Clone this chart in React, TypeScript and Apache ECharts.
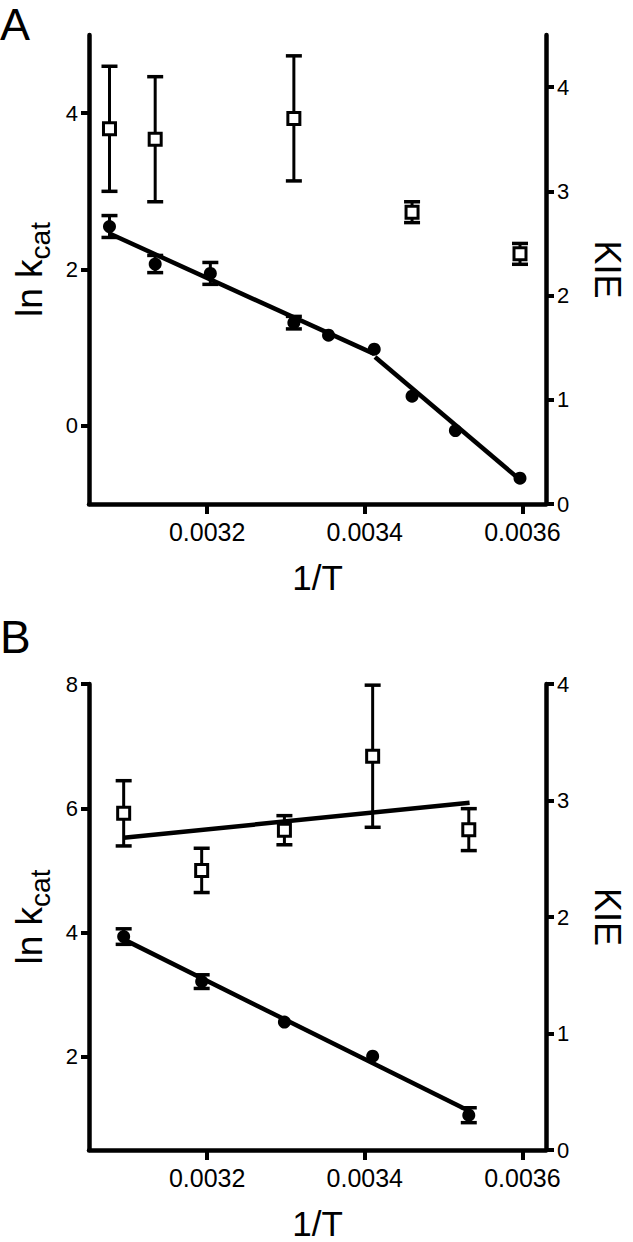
import React, { useEffect, useRef } from "react";
import * as echarts from "echarts";

// ---------- Data ----------
// Panel A
const xA_kie = [0.003076, 0.003134, 0.00331, 0.00346, 0.003597];
const kieA = [3.6, 3.5, 3.7, 2.8, 2.4];
const kieA_err = [0.6, 0.6, 0.6, 0.1, 0.1];

const xA_ln = [0.003076, 0.003134, 0.003204, 0.00331, 0.003354, 0.003412, 0.00346, 0.003515, 0.003597];
const lnA = [2.55, 2.07, 1.95, 1.32, 1.16, 0.98, 0.38, -0.06, -0.67];
const lnA_err = [0.14, 0.11, 0.14, 0.08, 0, 0, 0, 0, 0];

const fitA1_x = [0.003076, 0.003412];
const fitA1_y = [2.46, 0.92];
const fitA2_x = [0.003413, 0.003597];
const fitA2_y = [0.88, -0.69];

// Panel B
const xB = [0.003094, 0.003193, 0.003298, 0.00341, 0.003532];
const kieB = [2.89, 2.4, 2.745, 3.38, 2.75];
const kieB_err = [0.28, 0.19, 0.125, 0.61, 0.18];
const lnB = [3.935, 3.21, 2.56, 2.01, 1.06];
const lnB_err = [0.125, 0.11, 0, 0, 0.12];

const fitB_ln_x = [0.003094, 0.003535];
const fitB_ln_y = [3.89, 1.11];
const fitB_kie_x = [0.003094, 0.003533];
const fitB_kie_y = [2.68, 2.98];

// Axis ranges and ticks
const xMin = 0.00305;
const xMax = 0.00363;
const xTicks = [0.0032, 0.0034, 0.0036];
const lnA_range = [-1, 5];
const lnA_ticks = [0, 2, 4];
const kieA_range = [0, 4.5];
const kieA_ticks = [0, 1, 2, 3, 4];
const lnB_range = [0.5, 8];
const lnB_ticks = [2, 4, 6, 8];
const kieB_range = [0, 4];
const kieB_ticks = [0, 1, 2, 3, 4];

const FONT = "'Liberation Sans', Arial, Helvetica, sans-serif";
const BLACK = "#000";

const zip2 = (xs: number[], ys: number[]) => xs.map((x, i) => [x, ys[i]]);
const zip3 = (xs: number[], ys: number[], es: number[]) => xs.map((x, i) => [x, ys[i], es[i]]);

function errorBarSeries(data: number[][], gridIdx: number, yIdx: number) {
  return {
    type: "custom",
    xAxisIndex: gridIdx,
    yAxisIndex: yIdx,
    z: 2,
    silent: true,
    encode: { x: 0, y: 1 },
    data,
    renderItem: (params: any, api: any) => {
      const x = api.value(0);
      const y = api.value(1);
      const e = api.value(2);
      if (!e) return null;
      const top = api.coord([x, y + e]);
      const bot = api.coord([x, y - e]);
      const hw = 8;
      return {
        type: "group",
        children: [
          { type: "line", shape: { x1: top[0], y1: top[1], x2: bot[0], y2: bot[1] }, style: { stroke: BLACK, lineWidth: 3 } },
          { type: "line", shape: { x1: top[0] - hw, y1: top[1], x2: top[0] + hw, y2: top[1] }, style: { stroke: BLACK, lineWidth: 3.5 } },
          { type: "line", shape: { x1: bot[0] - hw, y1: bot[1], x2: bot[0] + hw, y2: bot[1] }, style: { stroke: BLACK, lineWidth: 3.5 } },
        ],
      };
    },
  };
}

function xAxisDef(gridIndex: number, nameGap: number) {
  return {
    type: "value",
    gridIndex,
    min: xMin,
    max: xMax,
    name: "1/T",
    nameLocation: "middle",
    nameGap,
    nameTextStyle: { fontSize: 35, fontFamily: FONT, color: BLACK },
    axisLine: { show: true, onZero: false, lineStyle: { color: BLACK, width: 4.5 } },
    axisTick: { show: true, length: 10, customValues: xTicks, lineStyle: { color: BLACK, width: 4 } },
    axisLabel: {
      show: true,
      customValues: xTicks,
      formatter: (v: number) => v.toFixed(4),
      fontSize: 25,
      fontFamily: FONT,
      color: BLACK,
      margin: 15,
    },
    splitLine: { show: false },
  };
}

function leftYAxisDef(gridIndex: number, range: number[], ticks: number[]) {
  return {
    type: "value",
    gridIndex,
    position: "left",
    min: range[0],
    max: range[1],
    name: "{a|ln k}{b|cat}",
    nameLocation: "middle",
    nameGap: 38,
    nameTextStyle: {
      color: BLACK,
      rich: {
        a: { fontSize: 37, fontFamily: FONT, color: BLACK, lineHeight: 40, verticalAlign: "top" },
        b: { fontSize: 28, fontFamily: FONT, color: BLACK, lineHeight: 40, verticalAlign: "top", padding: [15, 0, 0, 0] },
      },
    },
    axisLine: { show: true, onZero: false, lineStyle: { color: BLACK, width: 4.5 } },
    axisTick: { show: true, length: 8, customValues: ticks, lineStyle: { color: BLACK, width: 4 } },
    axisLabel: { show: true, customValues: ticks, fontSize: 22, fontFamily: FONT, color: BLACK, margin: 11 },
    splitLine: { show: false },
  };
}

function rightYAxisDef(gridIndex: number, range: number[], ticks: number[]) {
  return {
    type: "value",
    gridIndex,
    position: "right",
    min: range[0],
    max: range[1],
    name: "KIE",
    nameLocation: "middle",
    nameRotate: -90,
    nameGap: 43,
    nameTextStyle: { fontSize: 36, fontFamily: FONT, color: BLACK },
    axisLine: { show: true, onZero: false, lineStyle: { color: BLACK, width: 4.5 } },
    axisTick: { show: true, length: 8, customValues: ticks, lineStyle: { color: BLACK, width: 4 } },
    axisLabel: { show: true, customValues: ticks, fontSize: 22, fontFamily: FONT, color: BLACK, margin: 11 },
    splitLine: { show: false },
  };
}

function lineSeries(xs: number[], ys: number[], gridIdx: number, yIdx: number) {
  return {
    type: "line",
    xAxisIndex: gridIdx,
    yAxisIndex: yIdx,
    data: zip2(xs, ys),
    showSymbol: false,
    symbol: "none",
    silent: true,
    z: 3,
    lineStyle: { color: BLACK, width: 4.5 },
  };
}

function circleSeries(xs: number[], ys: number[], gridIdx: number, yIdx: number) {
  return {
    type: "scatter",
    xAxisIndex: gridIdx,
    yAxisIndex: yIdx,
    data: zip2(xs, ys),
    symbol: "circle",
    symbolSize: 13,
    z: 4,
    itemStyle: { color: BLACK, opacity: 1 },
  };
}

function squareSeries(xs: number[], ys: number[], gridIdx: number, yIdx: number) {
  return {
    type: "scatter",
    xAxisIndex: gridIdx,
    yAxisIndex: yIdx,
    data: zip2(xs, ys),
    symbol: "rect",
    symbolSize: 12,
    z: 5,
    itemStyle: { color: "#fff", borderColor: BLACK, borderWidth: 3, opacity: 1 },
  };
}

export default function App() {
  const ref = useRef<HTMLDivElement>(null);

  useEffect(() => {
    document.body.style.margin = "0";
    if (!ref.current) return;
    const chart = echarts.init(ref.current, undefined, { renderer: "svg" });

    const option: any = {
      animation: false,
      backgroundColor: "#fff",
      grid: [
        { left: 89, right: 76, top: 35, height: 469 },
        { left: 89, right: 76, top: 684, height: 470 },
      ],
      xAxis: [xAxisDef(0, 56), xAxisDef(1, 56)],
      yAxis: [
        leftYAxisDef(0, lnA_range, lnA_ticks),
        rightYAxisDef(0, kieA_range, kieA_ticks),
        leftYAxisDef(1, lnB_range, lnB_ticks),
        rightYAxisDef(1, kieB_range, kieB_ticks),
      ],
      graphic: [
        { type: "text", x: 0, y: 2, style: { text: "A", fontSize: 45, fontFamily: FONT, fill: BLACK, textVerticalAlign: "top", verticalAlign: "top" } },
        { type: "text", x: 0, y: 614, style: { text: "B", fontSize: 46, fontFamily: FONT, fill: BLACK, textVerticalAlign: "top", verticalAlign: "top" } },
      ],
      series: [
        // Panel A
        errorBarSeries(zip3(xA_kie, kieA, kieA_err), 0, 1),
        errorBarSeries(zip3(xA_ln, lnA, lnA_err), 0, 0),
        lineSeries(fitA1_x, fitA1_y, 0, 0),
        lineSeries(fitA2_x, fitA2_y, 0, 0),
        circleSeries(xA_ln, lnA, 0, 0),
        squareSeries(xA_kie, kieA, 0, 1),
        // Panel B
        errorBarSeries(zip3(xB, kieB, kieB_err), 1, 3),
        errorBarSeries(zip3(xB, lnB, lnB_err), 1, 2),
        lineSeries(fitB_ln_x, fitB_ln_y, 1, 2),
        lineSeries(fitB_kie_x, fitB_kie_y, 1, 3),
        circleSeries(xB, lnB, 1, 2),
        squareSeries(xB, kieB, 1, 3),
      ],
    };

    chart.setOption(option);
    return () => {
      chart.dispose();
    };
  }, []);

  return (
    <div
      ref={ref}
      style={{ position: "absolute", left: 0, top: 0, width: 633, height: 1242, background: "#fff" }}
    />
  );
}
